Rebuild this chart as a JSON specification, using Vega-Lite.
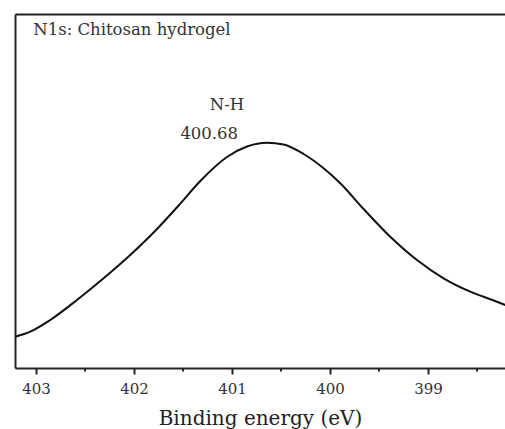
{
  "$schema": "https://vega.github.io/schema/vega-lite/v6.json",
  "autosize": "none",
  "width": 490,
  "height": 354,
  "padding": {"left": 15, "top": 14, "right": 0, "bottom": 61},
  "background": "white",
  "config": {"view": {"stroke": null}, "font": "DejaVu Serif"},
  "datasets": {
    "spectrum": [
      {"be": 403.211, "intensity": 31.3},
      {"be": 403.058, "intensity": 36.3},
      {"be": 402.854, "intensity": 48},
      {"be": 402.582, "intensity": 68},
      {"be": 402.310, "intensity": 89.7},
      {"be": 402.038, "intensity": 113},
      {"be": 401.765, "intensity": 139},
      {"be": 401.540, "intensity": 163},
      {"be": 401.323, "intensity": 187},
      {"be": 401.051, "intensity": 211},
      {"be": 400.847, "intensity": 221.5},
      {"be": 400.643, "intensity": 225.3},
      {"be": 400.473, "intensity": 223.5},
      {"be": 400.269, "intensity": 214},
      {"be": 400.065, "intensity": 199.7},
      {"be": 399.895, "intensity": 184.7},
      {"be": 399.657, "intensity": 159},
      {"be": 399.385, "intensity": 131.3},
      {"be": 399.112, "intensity": 108},
      {"be": 398.841, "intensity": 89.7},
      {"be": 398.568, "intensity": 76.3},
      {"be": 398.296, "intensity": 66.3},
      {"be": 398.211, "intensity": 63}
    ],
    "title": [
      {"be": 403.028, "intensity": 338, "text": "N1s: Chitosan hydrogel"}
    ],
    "peak": [
      {"be": 401.051, "intensity": 263, "text": "N-H"},
      {"be": 401.232, "intensity": 234.5, "text": "400.68"}
    ],
    "minor": [
      {"be": 402.5}, {"be": 401.5}, {"be": 400.5}, {"be": 399.5}, {"be": 398.5}
    ]
  },
  "layer": [
    {
      "data": {"name": "spectrum"},
      "mark": {"type": "line", "color": "#111", "strokeWidth": 2, "interpolate": "monotone", "clip": true},
      "encoding": {
        "x": {
          "field": "be", "type": "quantitative",
          "scale": {"domain": [403.214, 398.214], "nice": false, "zero": false},
          "axis": {
            "orient": "bottom",
            "title": "Binding energy (eV)",
            "titleFont": "DejaVu Serif", "titleFontSize": 20, "titleFontWeight": "normal", "titleColor": "#222", "titlePadding": 12,
            "values": [403, 402, 401, 400, 399],
            "format": "d",
            "labelFont": "DejaVu Serif", "labelFontSize": 15, "labelColor": "#333", "labelPadding": 7,
            "tickColor": "#222", "tickWidth": 2, "tickSize": 6,
            "domainColor": "#222", "domainWidth": 2,
            "grid": false
          }
        },
        "y": {
          "field": "intensity", "type": "quantitative",
          "scale": {"domain": [0, 354], "nice": false},
          "axis": {"title": null, "labels": false, "ticks": false, "grid": false, "domainColor": "#222", "domainWidth": 2}
        }
      }
    },
    {
      "data": {"name": "title"},
      "mark": {"type": "text", "font": "DejaVu Serif", "color": "#333", "baseline": "middle", "align": "left", "fontSize": 16.5},
      "encoding": {
        "x": {
          "field": "be", "type": "quantitative",
          "scale": {"domain": [403.214, 398.214], "nice": false, "zero": false},
          "axis": {"orient": "top", "title": null, "labels": false, "ticks": false, "grid": false, "domainColor": "#222", "domainWidth": 2}
        },
        "y": {"field": "intensity", "type": "quantitative", "scale": {"domain": [0, 354], "nice": false}, "axis": null},
        "text": {"field": "text"}
      }
    },
    {
      "data": {"name": "peak"},
      "mark": {"type": "text", "font": "DejaVu Serif", "color": "#333", "baseline": "middle", "align": "center", "fontSize": 16.5},
      "encoding": {
        "x": {"field": "be", "type": "quantitative", "scale": {"domain": [403.214, 398.214], "nice": false, "zero": false}, "axis": null},
        "y": {"field": "intensity", "type": "quantitative", "scale": {"domain": [0, 354], "nice": false}, "axis": null},
        "text": {"field": "text"}
      }
    },
    {
      "data": {"name": "minor"},
      "mark": {"type": "rule", "color": "#222", "strokeWidth": 2, "clip": false},
      "encoding": {
        "x": {"field": "be", "type": "quantitative", "scale": {"domain": [403.214, 398.214], "nice": false, "zero": false}, "axis": null},
        "y": {"datum": 0, "type": "quantitative", "scale": {"domain": [0, 354], "nice": false}, "axis": null},
        "y2": {"datum": -3.5}
      }
    }
  ],
  "resolve": {"axis": {"x": "independent", "y": "independent"}}
}
